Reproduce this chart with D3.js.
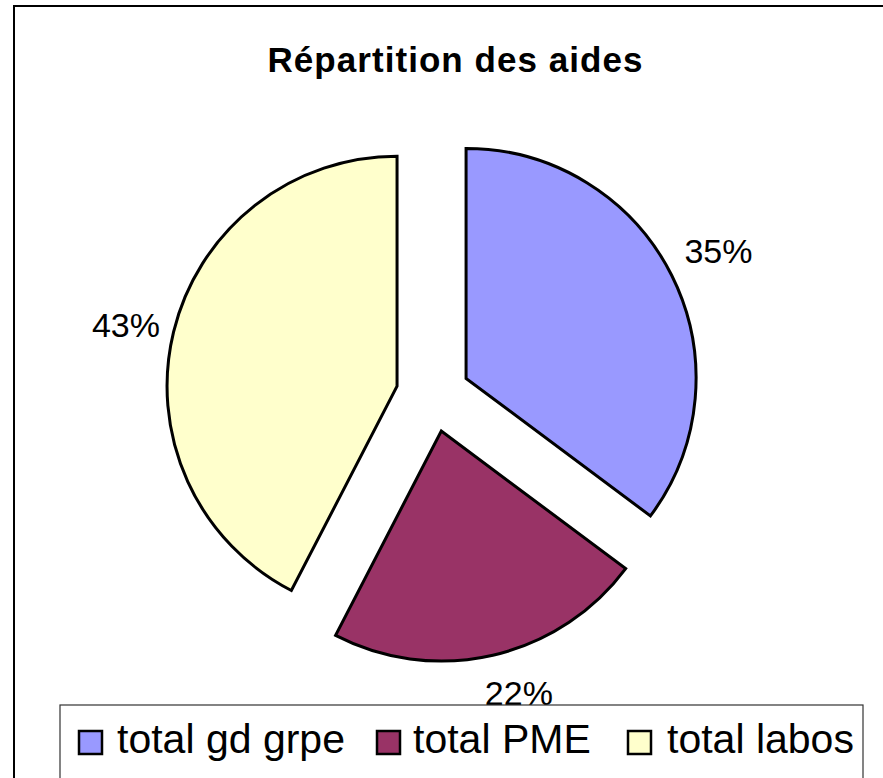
<!DOCTYPE html>
<html><head><meta charset="utf-8">
<script src="https://cdn.jsdelivr.net/npm/d3@7"></script>
<style>html,body{margin:0;padding:0;background:#fff;}</style>
</head><body>
<svg id="chart" width="883" height="778"></svg>
<script>
const title = "Répartition des aides";
const categories = ["total gd grpe", "total PME", "total labos"];
const values = [35.2, 22.4, 42.4];
const labels = ["35%", "22%", "43%"];
const colors = ["#9999FF", "#993366", "#FFFFCC"];

const svg = d3.select("#chart");
const font = "'Liberation Sans', Arial, sans-serif";

// outer frame
svg.append("rect").attr("x", 14).attr("y", 6).attr("width", 900).attr("height", 800)
  .attr("fill", "#fff").attr("stroke", "#000").attr("stroke-width", 2);

svg.append("text").attr("x", 455).attr("y", 72).attr("text-anchor", "middle")
  .attr("font-family", font).attr("font-weight", "bold").attr("font-size", 35)
  .attr("textLength", 375).attr("lengthAdjust", "spacing")
  .text(title);

const cx = 433, cy = 395, R = 230, explode = 37, labelR = 279;
const labelShift = [[3, 10], [15, 2], [0, 17]];
const pie = d3.pie().sort(null).value(d => d)(values);
const arc = d3.arc().innerRadius(0).outerRadius(R);
const labelArc = d3.arc().innerRadius(labelR).outerRadius(labelR);

const g = svg.append("g").attr("transform", `translate(${cx},${cy})`);
pie.forEach((p, i) => {
  const mid = (p.startAngle + p.endAngle) / 2;
  const dx = explode * Math.sin(mid), dy = -explode * Math.cos(mid);
  const sg = g.append("g").attr("transform", `translate(${dx},${dy})`);
  sg.append("path").attr("d", arc(p)).attr("fill", colors[i])
    .attr("stroke", "#000").attr("stroke-width", 3).attr("stroke-linejoin", "miter");
  const c = labelArc.centroid(p);
  sg.append("text").attr("x", c[0] + labelShift[i][0]).attr("y", c[1] + labelShift[i][1])
    .attr("text-anchor", "middle")
    .attr("font-family", font).attr("font-size", 34).attr("fill", "#000")
    .text(labels[i]);
});

// legend
const lg = svg.append("g");
lg.append("rect").attr("x", 60).attr("y", 705).attr("width", 803).attr("height", 100)
  .attr("fill", "#fff").attr("stroke", "#333").attr("stroke-width", 1.2);
const swX = [79, 377, 628], txX = [117, 413, 667];
categories.forEach((c, i) => {
  lg.append("rect").attr("x", swX[i]).attr("y", 731).attr("width", 23).attr("height", 23)
    .attr("fill", colors[i]).attr("stroke", "#000").attr("stroke-width", 2.5);
  lg.append("text").attr("x", txX[i]).attr("y", 753)
    .attr("font-family", font).attr("font-size", 41).attr("fill", "#000").text(c);
});
</script>
</body></html>
